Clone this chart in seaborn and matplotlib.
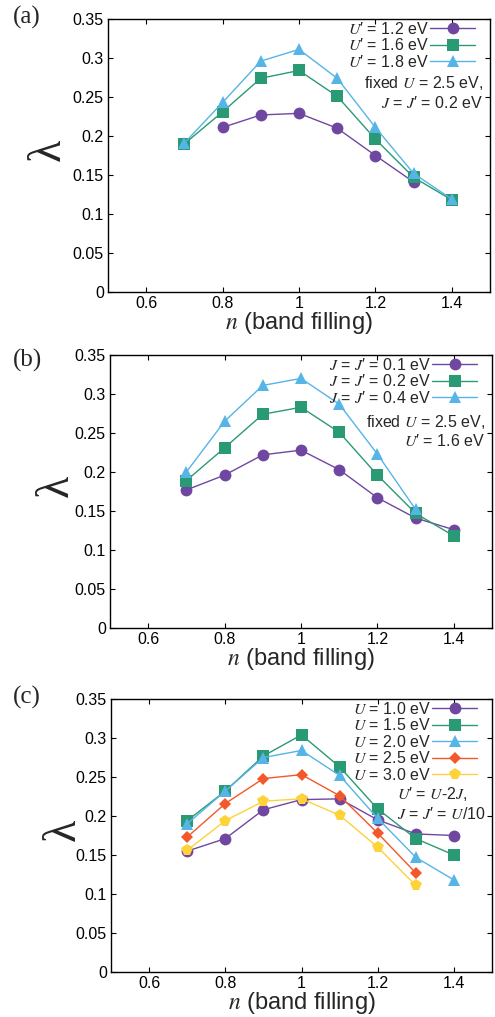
import numpy as np
import pandas as pd
import seaborn as sns
import matplotlib.pyplot as plt
from matplotlib.ticker import FuncFormatter, MultipleLocator

nan = np.nan

# --- data ---
n_fill = [0.7, 0.8, 0.9, 1.0, 1.1, 1.2, 1.3, 1.4]

# (a) varying U'
a_up12 = [nan, 0.211, 0.227, 0.229, 0.210, 0.175, 0.141, nan]
a_up16 = [0.190, 0.231, 0.274, 0.284, 0.251, 0.196, 0.147, 0.118]
a_up18 = [0.191, 0.243, 0.296, 0.311, 0.274, 0.211, 0.152, 0.119]
a_labels = ["$U$′ = 1.2 eV", "$U$′ = 1.6 eV", "$U$′ = 1.8 eV"]

# (b) varying J = J'
b_j01 = [0.177, 0.196, 0.222, 0.228, 0.203, 0.167, 0.141, 0.126]
b_j02 = [0.189, 0.231, 0.274, 0.283, 0.251, 0.196, 0.147, 0.118]
b_j04 = [0.200, 0.265, 0.311, 0.320, 0.287, 0.223, 0.152, nan]
b_labels = ["$J$ = $J$′ = 0.1 eV", "$J$ = $J$′ = 0.2 eV", "$J$ = $J$′ = 0.4 eV"]

# (c) varying U
c_u10 = [0.155, 0.171, 0.208, 0.221, 0.222, 0.195, 0.177, 0.175]
c_u15 = [0.194, 0.232, 0.277, 0.304, 0.263, 0.209, 0.171, 0.150]
c_u20 = [0.190, 0.232, 0.275, 0.284, 0.252, 0.197, 0.147, 0.118]
c_u25 = [0.173, 0.216, 0.248, 0.253, 0.226, 0.178, 0.127, nan]
c_u30 = [0.156, 0.194, 0.219, 0.222, 0.201, 0.160, 0.111, nan]
c_labels = ["$U$ = 1.0 eV", "$U$ = 1.5 eV", "$U$ = 2.0 eV", "$U$ = 2.5 eV", "$U$ = 3.0 eV"]

colors = ["#6f47a0", "#2a9a74", "#56b4e6", "#f2582a", "#fdd23a"]
markers = ["o", "s", "^", "D", "p"]
msizes = [8.5, 8, 8, 6, 8.5]

sns.set_theme(style="ticks")
plt.rcParams["font.family"] = ["Liberation Sans", "DejaVu Sans"]
plt.rcParams["mathtext.fontset"] = "stix"
plt.rcParams["axes.linewidth"] = 1.0
plt.rcParams["xtick.direction"] = "in"
plt.rcParams["ytick.direction"] = "in"

fig = plt.figure(figsize=(4.95, 10.17), dpi=100)
W, H = 495, 1017


def px_axes(left, right, top, bottom):
    return fig.add_axes([left / W, 1 - bottom / H, (right - left) / W, (bottom - top) / H])


def fmt(v, pos):
    return f"{round(v, 3):g}"


def draw_panel(ax, series, labels, legend_x, lam_x):
    for i, (ys, lab) in enumerate(zip(series, labels)):
        df = pd.DataFrame({"n": n_fill, "lam": ys}).dropna()
        sns.lineplot(data=df, x="n", y="lam", ax=ax, color=colors[i], marker=markers[i],
                     markersize=msizes[i], mew=0, linewidth=1.0, label=lab)
    ax.set_xlim(0.5, 1.5)
    ax.set_ylim(0, 0.35)
    ax.xaxis.set_major_locator(MultipleLocator(0.2))
    ax.yaxis.set_major_locator(MultipleLocator(0.05))
    ax.xaxis.set_major_formatter(FuncFormatter(fmt))
    ax.yaxis.set_major_formatter(FuncFormatter(fmt))
    ax.tick_params(top=True, right=True, length=3.5, width=0.8, labelsize=11.5, pad=3,
                   colors="black")
    ax.set_xlabel("$n$ (band filling)", fontsize=17, labelpad=-1)
    ax.set_ylabel("λ", fontsize=33, family="Liberation Serif", rotation=90)
    ax.yaxis.set_label_coords(lam_x, 0.52)
    ax.legend(loc="upper right", bbox_to_anchor=(legend_x, 0.993), frameon=False,
              markerfirst=False, fontsize=11.5, handlelength=2.8, handletextpad=0.1,
              labelspacing=0.03, borderpad=0, borderaxespad=0)
    for s in ax.spines.values():
        s.set_color("black")


ax_a = px_axes(108, 490, 19, 292)
draw_panel(ax_a, [a_up12, a_up16, a_up18], a_labels, 0.961, -0.10)
ax_a.text(0.982, 0.766, "fixed $U$ = 2.5 eV,", transform=ax_a.transAxes,
          ha="right", va="center", fontsize=11.5)
ax_a.text(0.982, 0.692, "$J$ = $J$′ = 0.2 eV", transform=ax_a.transAxes,
          ha="right", va="center", fontsize=11.5)

ax_b = px_axes(110, 492, 355, 628)
draw_panel(ax_b, [b_j01, b_j02, b_j04], b_labels, 0.961, -0.085)
ax_b.text(0.982, 0.755, "fixed $U$ = 2.5 eV,", transform=ax_b.transAxes,
          ha="right", va="center", fontsize=11.5)
ax_b.text(0.982, 0.685, "$U$′ = 1.6 eV", transform=ax_b.transAxes,
          ha="right", va="center", fontsize=11.5)

ax_c = px_axes(111, 492, 699, 972)
draw_panel(ax_c, [c_u10, c_u15, c_u20, c_u25, c_u30], c_labels, 0.961, -0.068)
ax_c.text(0.751, 0.652, "$U$′ = $U$-2$J$,", transform=ax_c.transAxes,
          ha="left", va="center", fontsize=11.5)
ax_c.text(0.751, 0.580, "$J$ = $J$′ = $U$/10", transform=ax_c.transAxes,
          ha="left", va="center", fontsize=11.5)

for lab, ypx in [("(a)", 17), ("(b)", 360), ("(c)", 697)]:
    fig.text(13 / W, 1 - ypx / H, lab, ha="left", va="center", fontsize=18,
             family="Liberation Serif")

fig.savefig("out.png", dpi=100)
